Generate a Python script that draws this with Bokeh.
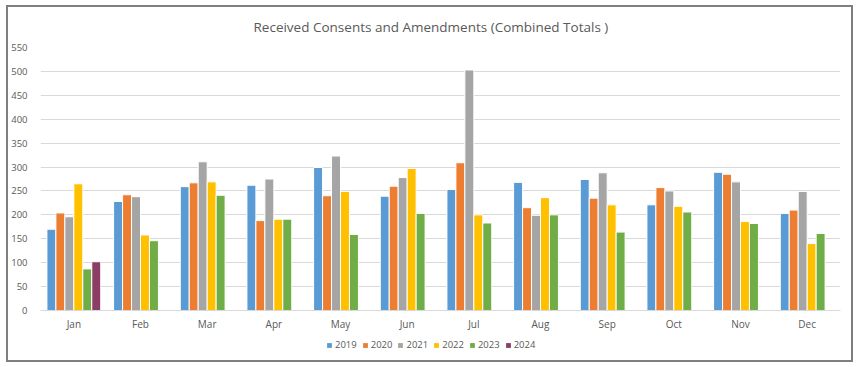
from bokeh.plotting import figure
from bokeh.layouts import column
from bokeh.models import ColumnDataSource, Range1d, SingleIntervalTicker, Legend, LegendItem
from bokeh.transform import dodge
from bokeh.embed import file_html
from bokeh.resources import INLINE

nan = float("nan")
months = ["Jan", "Feb", "Mar", "Apr", "May", "Jun", "Jul", "Aug", "Sep", "Oct", "Nov", "Dec"]
years = ["2019", "2020", "2021", "2022", "2023", "2024"]
v2019 = [170, 228, 259, 262, 299, 239, 253, 268, 274, 221, 289, 203]
v2020 = [204, 242, 267, 188, 240, 260, 309, 215, 235, 257, 285, 210]
v2021 = [196, 238, 311, 275, 323, 278, 503, 199, 288, 250, 269, 249]
v2022 = [265, 158, 269, 191, 249, 297, 200, 236, 221, 218, 186, 140]
v2023 = [87, 146, 241, 191, 159, 203, 183, 200, 164, 206, 182, 161]
v2024 = [102, nan, nan, nan, nan, nan, nan, nan, nan, nan, nan, nan]
colors = ["#5B9BD5", "#ED7D31", "#A5A5A5", "#FFC000", "#70AD47", "#8B3D66"]

src = ColumnDataSource(dict(month=months, y2019=v2019, y2020=v2020, y2021=v2021,
                            y2022=v2022, y2023=v2023, y2024=v2024))

FONT = "Open Sans"
TXT = "#595959"
p = figure(x_range=months, y_range=Range1d(0, 550), width=843, height=326,
           output_backend="svg", toolbar_location=None,
           title="Received Consents and Amendments (Combined Totals )",
           min_border_left=30, min_border_right=11, min_border_top=40, min_border_bottom=21)
p.x_range.range_padding = 0

p.title.align = "left"
p.title.vertical_align = "top"
p.title.text_font = FONT
p.title.text_font_size = "13.5px"
p.title.text_font_style = "normal"
p.title.text_color = TXT
p.title.standoff = 20
p.title.offset = 213

p.outline_line_color = None
p.xgrid.grid_line_color = None
p.ygrid.grid_line_color = "#D9D9D9"
p.yaxis.ticker = SingleIntervalTicker(interval=50)
p.yaxis.axis_line_color = None
p.yaxis.major_tick_line_color = None
p.yaxis.minor_tick_line_color = None
p.yaxis.major_tick_out = 0
p.yaxis.major_tick_in = 0
p.yaxis.major_label_text_font = FONT
p.yaxis.major_label_text_font_size = "9.5px"
p.yaxis.major_label_text_color = TXT
p.yaxis.major_label_standoff = 9
p.xaxis.axis_line_color = "#D9D9D9"
p.xaxis.major_tick_line_color = None
p.xaxis.minor_tick_line_color = None
p.xaxis.major_tick_out = 0
p.xaxis.major_tick_in = 0
p.xaxis.major_label_text_font = FONT
p.xaxis.major_label_text_font_size = "10px"
p.xaxis.major_label_text_color = TXT
p.xaxis.major_label_standoff = 6

step = 0.1345
for i, (yr, c) in enumerate(zip(years, colors)):
    off = (i - 2.5) * step
    p.vbar(x=dodge("month", off, range=p.x_range), top="y" + yr, width=step,
           source=src, fill_color=c, line_color="white", line_width=1)

# legend strip below the chart
leg = figure(width=843, height=27, x_range=Range1d(0, 1), y_range=Range1d(0, 1),
             output_backend="svg", toolbar_location=None,
             min_border_left=0, min_border_right=0, min_border_top=0, min_border_bottom=0)
leg.axis.visible = False
leg.grid.grid_line_color = None
leg.outline_line_color = None
items = []
for yr, c in zip(years, colors):
    r = leg.vbar(x=[-10], top=[-10], width=0.1, fill_color=c, line_color=None)
    items.append(LegendItem(label=yr, renderers=[r]))
legend = Legend(items=items, orientation="horizontal", location=(286, 9),
                border_line_color=None, background_fill_alpha=0,
                label_text_font=FONT, label_text_font_size="9.5px",
                label_text_color=TXT, glyph_width=6, glyph_height=6,
                label_height=12, label_standoff=3, spacing=5, padding=2, margin=0)
leg.add_layout(legend, "center")

root = column(p, leg, spacing=0,
              styles={"border": "2px solid #7F7F7F", "margin-left": "6px", "margin-top": "5px"})

open("out.html", "w").write(file_html(root, INLINE))
